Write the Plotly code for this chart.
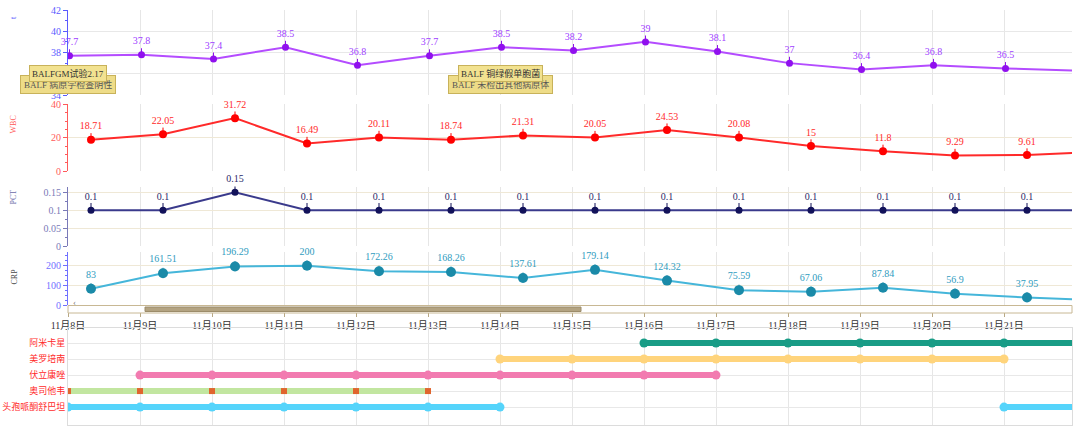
import plotly.graph_objects as go

# ---------------- data ----------------
day_numbers = list(range(8, 22))
x_tick_labels = [f"11月{d}日" for d in day_numbers]
x_tick_dates = [f"2023-11-{d:02d}" for d in day_numbers]

temp_times = [f"2023-11-{d:02d} 00:30" for d in range(8, 23)]
temp_values = [37.7, 37.8, 37.4, 38.5, 36.8, 37.7, 38.5, 38.2, 39.0, 38.1, 37.0, 36.4, 36.8, 36.5, 36.3]

lab_times = [f"2023-11-{d:02d} 07:40" for d in range(8, 23)]
wbc_values = [18.71, 22.05, 31.72, 16.49, 20.11, 18.74, 21.31, 20.05, 24.53, 20.08, 15, 11.8, 9.29, 9.61, 11.6]
pct_values = [0.1, 0.1, 0.15, 0.1, 0.1, 0.1, 0.1, 0.1, 0.1, 0.1, 0.1, 0.1, 0.1, 0.1, 0.1]
crp_values = [83, 161.51, 196.29, 200, 172.26, 168.26, 137.61, 179.14, 124.32, 75.59, 67.06, 87.84, 56.9, 37.95, 25]

drug_names = ["头孢哌酮舒巴坦", "奥司他韦", "伏立康唑", "美罗培南", "阿米卡星"]
drug_periods = [
    [(8, 14), (21, 22)],   # 头孢哌酮舒巴坦
    [(8, 13)],             # 奥司他韦
    [(9, 17)],             # 伏立康唑
    [(14, 21)],            # 美罗培南
    [(16, 22)],            # 阿米卡星
]

event_dates = ["2023-11-08 00:00", "2023-11-14 00:00"]
event_front = ["BALFGM试验2.17", "BALF 铜绿假单胞菌"]
event_back = ["BALF 病原学检查阴性", "BALF 未检出其他病原体"]

# ---------------- styling ----------------
NUMF = "Liberation Serif, Noto Sans CJK SC"
CJK = "Noto Sans CJK SC"
x_range = ["2023-11-08 00:00", "2023-11-21 22:40"]

def labels(vals):
    # the last point lies beyond the visible range, so its label is left empty
    return [f"{v:g}" for v in vals[:-1]] + [""]

fig = go.Figure()

def add_series(xs, ys, axis_idx, line_c, mark_c, text_c, msize, stem, lab_size):
    xa = "x" if axis_idx == 1 else f"x{axis_idx}"
    ya = "y" if axis_idx == 1 else f"y{axis_idx}"
    fig.add_trace(go.Scatter(
        x=xs, y=ys, xaxis=xa, yaxis=ya, mode="lines+markers",
        line=dict(color=line_c, width=2),
        marker=dict(color=mark_c, size=msize),
        error_y=dict(type="constant", value=stem, symmetric=False, valueminus=0,
                     width=0, thickness=1, color=mark_c),
        showlegend=False, hoverinfo="x+y"))
    fig.add_trace(go.Scatter(
        x=xs, y=ys, xaxis=xa, yaxis=ya, mode="markers+text",
        text=labels(ys), textposition="top center", cliponaxis=False,
        textfont=dict(family=NUMF, size=10, color=text_c),
        marker=dict(size=lab_size, opacity=0),
        showlegend=False, hoverinfo="skip"))

add_series(temp_times, temp_values, 1, "#b44cff", "#9010ee", "#a040ff", 7, 0.6, 11)
add_series(lab_times, wbc_values, 2, "#ff2a2a", "#ff0000", "#ff2a2a", 8, 4.0, 11)
add_series(lab_times, pct_values, 3, "#3a3a8c", "#12125a", "#2a2a6a", 7, 0.02, 11)
add_series(lab_times, crp_values, 4, "#45b6da", "#1a8aa8", "#2f9cc0", 10, 28, 12)

# ---------------- medication bars ----------------
drug_line_colors = ["#55d4fb", "#c2e6a0", "#f27bb0", "#ffd47c", "#199c86"]
drug_mark_colors = ["#55d4fb", "#e0652e", "#f27bb0", "#ffd47c", "#199c86"]
drug_mark_symbols = ["circle", "square", "circle", "circle", "circle"]
drug_mark_sizes = [9, 6, 9, 9, 9]

for i, name in enumerate(drug_names):
    for (a, b) in drug_periods[i]:
        xs = [f"2023-11-{d:02d}" for d in range(a, b + 1)]
        ys = [i + 1] * len(xs)
        fig.add_trace(go.Scatter(
            x=xs, y=ys, xaxis="x5", yaxis="y5", mode="lines+markers",
            line=dict(color=drug_line_colors[i], width=6),
            marker=dict(color=drug_mark_colors[i], size=drug_mark_sizes[i],
                        symbol=drug_mark_symbols[i]),
            showlegend=False, hoverinfo="x+name", name=name))

# ---------------- layout ----------------
def pyfrac(py):
    return (425 - py) / 417.0

domains = {
    1: [pyfrac(95), pyfrac(10)],
    2: [pyfrac(171), pyfrac(103.5)],
    3: [pyfrac(246), pyfrac(186.5)],
    4: [pyfrac(305), pyfrac(252)],
    5: [0, pyfrac(328)],
}

layout = dict(
    width=1080, height=427,
    margin=dict(l=68, r=8, t=8, b=2, autoexpand=False),
    paper_bgcolor="white", plot_bgcolor="white",
    font=dict(family=NUMF, size=10, color="#333"),
    showlegend=False,
)

for i in range(1, 6):
    key = "xaxis" if i == 1 else f"xaxis{i}"
    ax = dict(type="date", range=x_range, tickvals=x_tick_dates, ticktext=x_tick_labels,
              showticklabels=False, showgrid=True, gridcolor="#e6e6e6", gridwidth=1,
              zeroline=False, showline=False, ticks="", automargin=False,
              anchor="y" if i == 1 else f"y{i}")
    if i > 1:
        ax["matches"] = "x"
    if i == 4:
        ax.update(showticklabels=True, ticks="outside", ticklen=11, tickcolor="#b8a884",
                  tickfont=dict(family=NUMF + ", " + CJK, size=10, color="#333"))
    if i == 5:
        ax.update(showline=True, mirror=True, linecolor="#dcdcdc")
    layout[key] = ax

def yax(i, rng, tickvals, color, gridc, minor_dtick, fmt=None):
    d = dict(domain=domains[i], range=rng, tickvals=tickvals,
             anchor="x" if i == 1 else f"x{i}", automargin=False,
             showline=True, linecolor=color, linewidth=1,
             ticks="outside", ticklen=4, tickcolor=color,
             tickfont=dict(family=NUMF, size=10, color=color),
             showgrid=True, gridcolor=gridc, zeroline=False,
             minor=dict(ticks="outside", ticklen=2, dtick=minor_dtick, tickcolor=color, showgrid=False))
    if fmt:
        d["ticktext"] = fmt
    return d

layout["yaxis"] = yax(1, [34, 42], [34, 36, 38, 40, 42], "#5a5aff", "#e8e8e8", 1)
layout["yaxis2"] = yax(2, [0, 40.5], [0, 20, 40], "#ff5a5a", "#efe8d6", 5)
layout["yaxis3"] = yax(3, [0, 0.166], [0, 0.05, 0.1, 0.15], "#7a7ab8", "#efe8d6", 0.025,
                       ["0", "0.05", "0.1", "0.15"])
layout["yaxis4"] = yax(4, [0, 270], [0, 100, 200], "#7070ff", "#efe8d6", 25)
layout["yaxis5"] = dict(domain=domains[5], range=[-0.12, 5.94], anchor="x5", automargin=False,
                        tickvals=[1, 2, 3, 4, 5], ticktext=drug_names,
                        tickfont=dict(family=CJK, size=9, color="#ff2a2a"),
                        showgrid=True, gridcolor="#e8e8e8", zeroline=False,
                        showline=True, linecolor="#dcdcdc", mirror=True, ticks="")

fig.update_layout(**layout)

# axis titles (rotated)
titles = [("t", 14, "#5a5aff"), ("WBC", 114, "#ff5a5a"), ("PCT", 197, "#6a6aa8"), ("CRP", 277, "#444")]
for t, py, c in titles:
    fig.add_annotation(xref="paper", yref="paper", x=(7 - 68) / 1004, y=pyfrac(py),
                       text=t, textangle=-90, showarrow=False,
                       font=dict(family=NUMF, size=8, color=c))

# event notes
for d, front, back in zip(event_dates, event_front, event_back):
    fig.add_annotation(xref="x", yref="y", x=d, y=34.95, text=back, showarrow=False,
                       font=dict(family=NUMF + ", " + CJK, size=9, color="#555"),
                       bgcolor="#eedc88", bordercolor="#c8b25a", borderwidth=1, borderpad=3)
    fig.add_annotation(xref="x", yref="y", x=d, y=36.0, text=front, showarrow=False,
                       font=dict(family=NUMF + ", " + CJK, size=9, color="#333"),
                       bgcolor="#f2e290", bordercolor="#c8b25a", borderwidth=1, borderpad=2)

# scrollbar under CRP panel
fig.add_shape(type="rect", xref="paper", yref="paper", x0=0, x1=1,
              y0=pyfrac(313), y1=pyfrac(305.5), fillcolor="white",
              line=dict(color="#c8b894", width=1), layer="above")
fig.add_shape(type="rect", xref="paper", yref="paper", x0=(145 - 68) / 1004, x1=(581 - 68) / 1004,
              y0=pyfrac(311.5), y1=pyfrac(307), fillcolor="#b3a381",
              line=dict(color="#9c8c6a", width=1), layer="above")
fig.add_annotation(xref="paper", yref="paper", x=(71 - 68) / 1004, y=pyfrac(309.3), text="‹",
                   showarrow=False, font=dict(size=9, color="#777"))

fig.write_html("out.html")
